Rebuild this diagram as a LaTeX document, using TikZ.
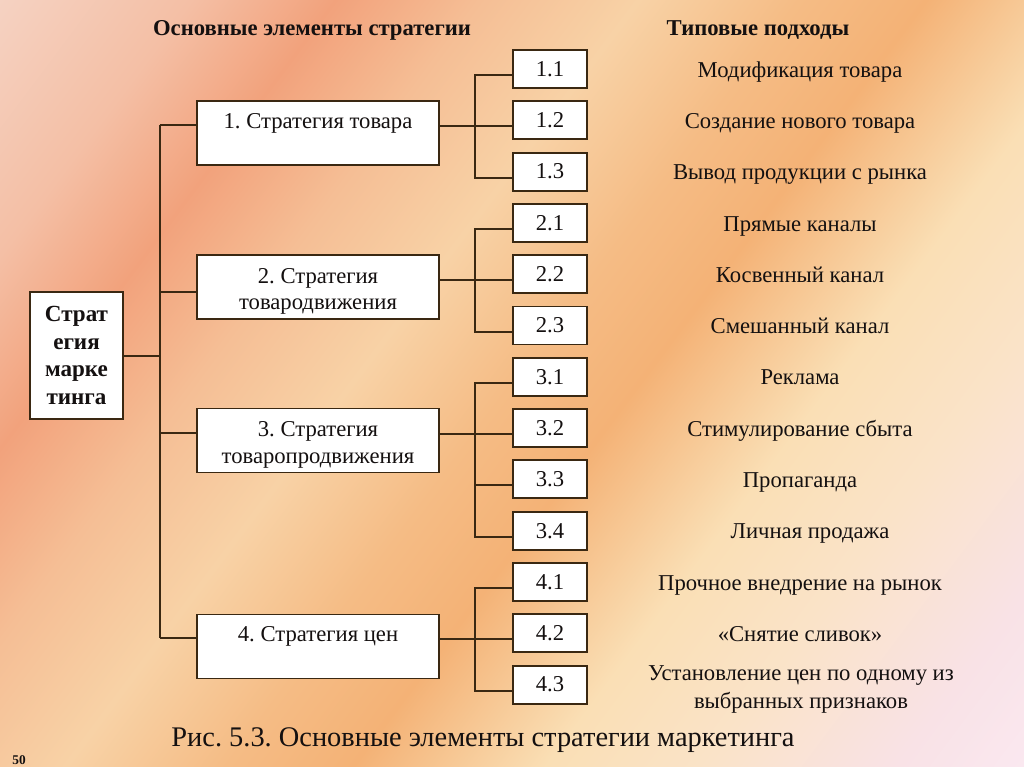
\documentclass[tikz,border=0pt]{standalone}
\usepackage{fontspec}
\setmainfont{Liberation Serif}
\usetikzlibrary{calc}
\frenchspacing
\definecolor{ln}{HTML}{3A2812}
\definecolor{tx}{HTML}{141010}
\definecolor{g0}{HTML}{F5D2C2}
\definecolor{g1}{HTML}{F4BFA5}
\definecolor{g2}{HTML}{F2A27C}
\definecolor{g3}{HTML}{F5BE95}
\definecolor{g4}{HTML}{F8D2A6}
\definecolor{g5}{HTML}{F5BC85}
\definecolor{g6}{HTML}{F4B276}
\definecolor{g7}{HTML}{FADFB5}
\definecolor{g8}{HTML}{FAE3C8}
\definecolor{g9}{HTML}{F9E2E6}
\definecolor{g10}{HTML}{FAE8F0}
\pgfdeclarehorizontalshading{bgshade}{100bp}{color(0bp)=(g0); color(25bp)=(g0); color(31bp)=(g1); color(35.5bp)=(g2); color(40bp)=(g3); color(45bp)=(g4); color(50bp)=(g5); color(54bp)=(g6); color(60bp)=(g7); color(65bp)=(g8); color(71bp)=(g9); color(75bp)=(g10); color(100bp)=(g10)}
\newcommand\fsbody{\fontsize{17pt}{19.8pt}\selectfont}
\newcommand\fsapp{\fontsize{17pt}{21pt}\selectfont}
\newcommand\fshead{\fontsize{17pt}{19pt}\selectfont\bfseries}
\newcommand\fsmain{\fontsize{17.3pt}{20.8pt}\selectfont\bfseries}
\newcommand\fscap{\fontsize{21.3pt}{25pt}\selectfont}
\newcommand\lonetext[3]{\raisebox{#1}[\height][\depth]{\begin{tabular}{@{}c@{}}#2\\#3\end{tabular}}}
\tikzset{
  conn/.style={draw=ln, line width=1.5pt},
  mainbox/.style={draw=ln, line width=1.4pt, fill=white, inner sep=0pt, align=center, text=tx, font=\fsmain, minimum width=69.75pt, minimum height=95.25pt},
  lonebox/.style={draw=ln, line width=1.4pt, fill=white, inner sep=0pt, text=tx, font=\fsbody, minimum width=181.5pt, minimum height=48pt},
  subbox/.style={draw=ln, line width=1.4pt, fill=white, inner sep=0pt, align=center, text=tx, font=\fsbody, minimum width=55.5pt, minimum height=28.5pt},
  approach/.style={inner sep=0pt, text=tx, font=\fsapp, text height=11pt, text depth=4pt},
  header/.style={inner sep=0pt, text=tx, font=\fshead},
}
\begin{document}
\begin{tikzpicture}[x=0.75pt,y=-0.75pt]
\useasboundingbox (0,0) rectangle (1024,767);
\begin{scope}
\clip (0,0) rectangle (1024,767);
\begin{scope}[transform canvas={rotate around={-36.8:(512,383.5)}}]
\shade[shading=bgshade] (-128,-256.5) rectangle (1152,1023.5);
\end{scope}
\end{scope}

\node[header] (h1) at (312,30) {Основные элементы стратегии};
\node[header] (h2) at (758,30) {Типовые подходы};

\node[mainbox] (m) at (76.5,355.5) {Страт\\егия\\марке\\тинга};

\node[lonebox] (b1) at (318,133) {\lonetext{-2.3pt}{1. Стратегия товара}{\phantom{Х}}};
\node[lonebox] (b2) at (318,287) {\lonetext{-3.3pt}{2. Стратегия}{товародвижения}};
\node[lonebox] (b3) at (318,440.5) {\lonetext{-3.3pt}{3. Стратегия}{товаропродвижения}};
\node[lonebox] (b4) at (318,646.5) {\lonetext{-2.3pt}{4. Стратегия цен}{\phantom{Х}}};

\node[subbox] (s0) at (550,69) {1.1};
\node[subbox] (s1) at (550,120.3) {1.2};
\node[subbox] (s2) at (550,171.6) {1.3};
\node[subbox] (s3) at (550,222.9) {2.1};
\node[subbox] (s4) at (550,274.2) {2.2};
\node[subbox] (s5) at (550,325.5) {2.3};
\node[subbox] (s6) at (550,376.8) {3.1};
\node[subbox] (s7) at (550,428.1) {3.2};
\node[subbox] (s8) at (550,479.4) {3.3};
\node[subbox] (s9) at (550,530.7) {3.4};
\node[subbox] (s10) at (550,582) {4.1};
\node[subbox] (s11) at (550,633.3) {4.2};
\node[subbox] (s12) at (550,684.6) {4.3};

\node[approach] (r0) at (800,72.5) {Модификация товара};
\node[approach] (r1) at (800,123.8) {Создание нового товара};
\node[approach] (r2) at (800,175.1) {Вывод продукции с рынка};
\node[approach] (r3) at (800,226.4) {Прямые каналы};
\node[approach] (r4) at (800,277.7) {Косвенный канал};
\node[approach] (r5) at (800,329) {Смешанный канал};
\node[approach] (r6) at (800,380.3) {Реклама};
\node[approach] (r7) at (800,431.6) {Стимулирование сбыта};
\node[approach] (r8) at (800,482.9) {Пропаганда};
\node[approach] (r9) at (810,534.2) {Личная продажа};
\node[approach] (r10) at (800,585.5) {Прочное внедрение на рынок};
\node[approach] (r11) at (800,636.8) {«Снятие сливок»};
\node[inner sep=0pt, align=center, text=tx, font=\fsapp] (r12) at (801,689) {Установление цен по одному из\\выбранных признаков};

\node[inner sep=0pt, text=tx, font=\fscap] (cap) at (483,740) {Рис. 5.3. Основные элементы стратегии маркетинга};
\node[inner sep=0pt, text=tx, font=\fontsize{10pt}{12pt}\selectfont\bfseries] (pg) at (19,760) {50};

% connectors main -> level 1
\coordinate (t1) at (160,125);
\coordinate (t2) at (160,292);
\coordinate (t3) at (160,433);
\coordinate (t4) at (160,638);
\draw[conn] (m.east) -- (m.east -| t1);
\draw[conn] (t1) -- (t4);
\draw[conn] (t1) -- (b1.west |- t1);
\draw[conn] (t2) -- (b2.west |- t2);
\draw[conn] (t3) -- (b3.west |- t3);
\draw[conn] (t4) -- (b4.west |- t4);

% connectors level 1 -> level 2
\foreach \i in {0,...,12}{\coordinate (p\i) at ($(s\i.west)+(0,6)$);}
\draw[conn] (p0) -- ++(-37,0) |- (p2);
\draw[conn] (b1.east |- p1) -- (p1);
\draw[conn] (p3) -- ++(-37,0) |- (p5);
\draw[conn] (b2.east |- p4) -- (p4);
\draw[conn] (p6) -- ++(-37,0) |- (p9);
\draw[conn] (b3.east |- p7) -- (p7);
\draw[conn] (p8) -- ++(-37,0);
\draw[conn] (p10) -- ++(-37,0) |- (p12);
\draw[conn] (b4.east |- p11) -- (p11);
\end{tikzpicture}
\end{document}
